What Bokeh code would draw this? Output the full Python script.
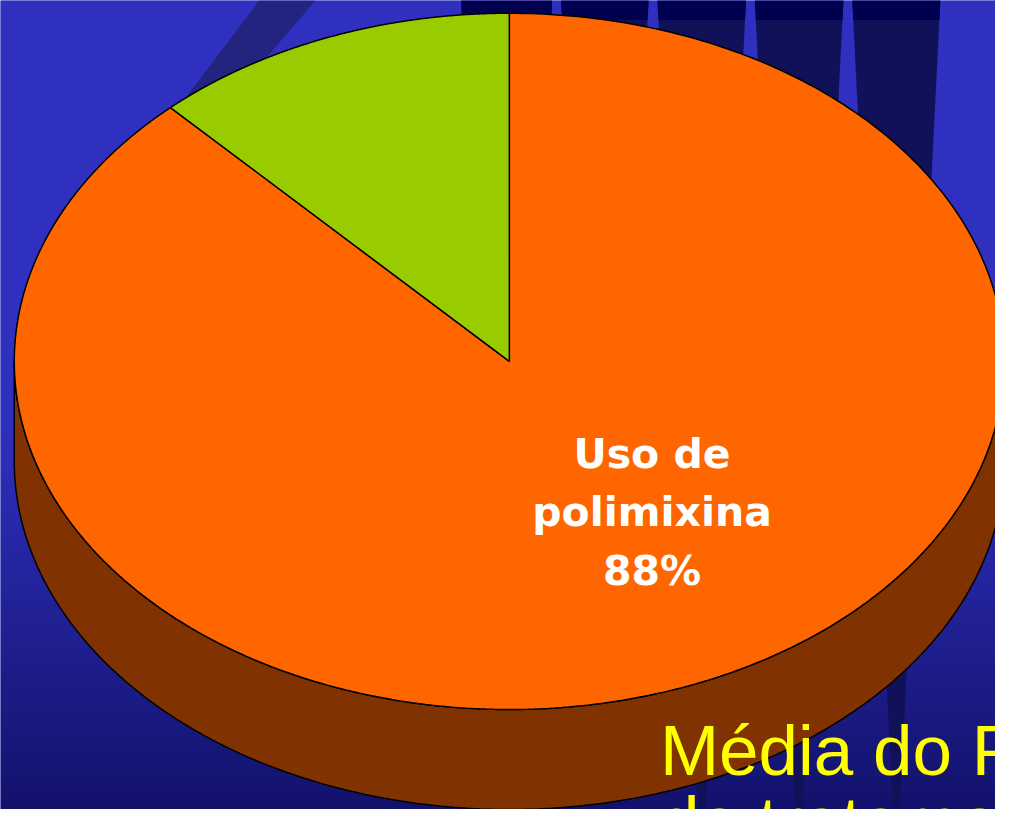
import numpy as np
from bokeh.plotting import figure
from bokeh.models import Range1d, Label
from bokeh.core.properties import value
from bokeh.embed import file_html
from bokeh.resources import INLINE

# ---- data ----
categories = ["Uso de polimixina", "Outros"]
values = [88, 12]
slice_colors = ["#ff6600", "#99cc00"]
side_colors = ["#803300", "#4d6600"]
label_lines = ["Uso de", "polimixina", "88%"]
title_lines = ["Média do P", "de tratame"]

# ---- layout (reference pixel space, y downwards) ----
W, H = 1011, 825
CX, CY, RX, RY, DEPTH = 517, 368, 503, 355, 102
START = 90.0


def hex2rgb(h):
    h = h.lstrip("#")
    return tuple(int(h[i:i + 2], 16) for i in (0, 2, 4))


p = figure(width=995, height=809, x_range=Range1d(0, W), y_range=Range1d(H, 0),
           output_backend="svg", toolbar_location=None, min_border=0)
p.axis.visible = False
p.grid.visible = False
p.outline_line_color = None
p.background_fill_color = "#3030c0"
p.border_fill_color = "#3030c0"

# ---- background gradient (vertical) ----
TOP_C, BOT_C = np.array(hex2rgb("#3030c0"), float), np.array(hex2rgb("#12126c"), float)
rows = np.arange(H) + 0.5
t = np.clip((rows - 420) / (H - 420), 0, 1)[:, None]
rgb = TOP_C[None, :] * (1 - t) + BOT_C[None, :] * t
img = np.empty((H, 2), dtype=np.uint32)
view = img.view(dtype=np.uint8).reshape((H, 2, 4))
view[:, :, 0] = rgb[:, 0:1].round()
view[:, :, 1] = rgb[:, 1:2].round()
view[:, :, 2] = rgb[:, 2:3].round()
view[:, :, 3] = 255
p.image_rgba(image=[img], x=0, y=0, dw=W, dh=H)

# ---- diagonal darker stripe (upper left) ----
p.patch([263, 320, 226, 180], [0, 0, 110, 110], fill_color="#232380", line_color=None)

# ---- dark panel with blue wedges (upper right) ----
wedge_c = [565, 663, 762, 861]
hw = lambda y: 4.5 + 0.05 * y
left_edge = lambda y: 468 + 0.05 * y
right_edge = lambda y: 955 - 0.05 * y
edges = [(left_edge, lambda y, c=wedge_c[0]: c - hw(y))]
for a, b in zip(wedge_c[:-1], wedge_c[1:]):
    edges.append((lambda y, c=a: c + hw(y), lambda y, c=b: c - hw(y)))
edges.append((lambda y, c=wedge_c[-1]: c + hw(y), right_edge))

for ya, yb, col in [(0, H, "#11115a"), (0, 20, "#000050")]:
    dx, dy = [], []
    for fl, fr in edges:
        dx.append([fl(ya), fr(ya), fr(yb), fl(yb)])
        dy.append([ya, ya, yb, yb])
    p.patches(dx, dy, fill_color=col, line_color=None)

# ---- 3D pie ----
total = float(sum(values))
angles = [START]
for v in values:
    angles.append(angles[-1] - 360.0 * v / total)

# sides (front half only)
for i in range(len(values)):
    a0, a1 = angles[i], angles[i + 1]
    for k in range(-2, 3):
        lo, hi = max(a1, -180 + 360 * k), min(a0, 360 * k)
        if hi > lo:
            th = np.radians(np.linspace(lo, hi, 240))
            xt = CX + RX * np.cos(th)
            yt = CY - RY * np.sin(th)
            xs = np.concatenate([xt, xt[::-1]])
            ys = np.concatenate([yt, yt[::-1] + DEPTH])
            p.patch(xs, ys, fill_color=side_colors[i], line_color="black", line_width=1.5)

# top faces
for i in range(len(values)):
    a0, a1 = angles[i], angles[i + 1]
    th = np.radians(np.linspace(a0, a1, 400))
    xs = np.concatenate([[CX], CX + RX * np.cos(th), [CX]])
    ys = np.concatenate([[CY], CY - RY * np.sin(th), [CY]])
    p.patch(xs, ys, fill_color=slice_colors[i], line_color="black", line_width=1.5)

# ---- slice label ----
LBL_X, LBL_Y0, LBL_DY = 662, 462, 60
p.text(x=[LBL_X] * len(label_lines), y=[LBL_Y0 + LBL_DY * k for k in range(len(label_lines))],
       text=label_lines, text_color="white", text_font=value("DejaVu Sans"),
       text_font_style="bold", text_font_size="41px", text_align="center",
       text_baseline="alphabetic")

# ---- yellow title (runs off the slide edge, as in the original) ----
for txt, yy, base in zip(title_lines, [765, 797], ["alphabetic", "top"]):
    p.add_layout(Label(x=670, y=yy, x_units="data", y_units="data", text=txt,
                       text_color="#ffff00", text_font="Liberation Sans",
                       text_font_size="71px", text_align="left",
                       text_baseline=base))

open("out.html", "w").write(file_html(p, INLINE))
